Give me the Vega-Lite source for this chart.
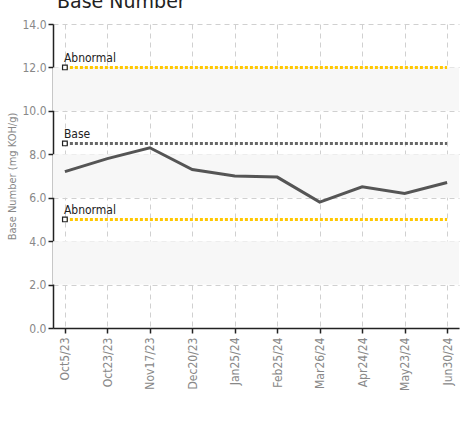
{
  "$schema": "https://vega.github.io/schema/vega-lite/v6.json",
  "width": 406,
  "height": 304,
  "padding": {"left": 6, "top": -7, "right": 4, "bottom": 5},
  "title": {"text": "Base Number", "anchor": "start", "frame": "group", "fontSize": 19, "fontWeight": "normal", "color": "#222", "font": "DejaVu Sans", "offset": 2, "dx": 4, "dy": -4},
  "datasets": {
    "readings": [
      {"date": "Oct5/23", "value": 7.2},
      {"date": "Oct23/23", "value": 7.8},
      {"date": "Nov17/23", "value": 8.3},
      {"date": "Dec20/23", "value": 7.3},
      {"date": "Jan25/24", "value": 7.0},
      {"date": "Feb25/24", "value": 6.95},
      {"date": "Mar26/24", "value": 5.8},
      {"date": "Apr24/24", "value": 6.5},
      {"date": "May23/24", "value": 6.2},
      {"date": "Jun30/24", "value": 6.7}
    ],
    "limits": [
      {"label": "Abnormal", "kind": "abnormal", "value": 12, "start": "Oct5/23", "end": "Jun30/24"},
      {"label": "Base", "kind": "base", "value": 8.5, "start": "Oct5/23", "end": "Jun30/24"},
      {"label": "Abnormal", "kind": "abnormal", "value": 5, "start": "Oct5/23", "end": "Jun30/24"}
    ],
    "bands": [
      {"lo": 2, "hi": 4},
      {"lo": 6, "hi": 8},
      {"lo": 10, "hi": 12}
    ]
  },
  "config": {
    "view": {"stroke": null},
    "font": "DejaVu Sans Condensed, Roboto, sans-serif",
    "axis": {
      "labelFont": "DejaVu Sans Condensed, Roboto, sans-serif",
      "labelColor": "#888",
      "labelFontSize": 12,
      "titleFont": "DejaVu Sans Condensed, Roboto, sans-serif",
      "titleColor": "#888",
      "titleFontWeight": "normal",
      "titleFontSize": 11,
      "domainColor": "#222",
      "domainWidth": 1.5,
      "tickColor": "#222",
      "tickWidth": 1.5,
      "tickSize": 5,
      "gridColor": "#d0d0d0",
      "gridDash": [5, 4],
      "gridWidth": 1
    }
  },
  "encoding": {
    "x": {
      "field": "date",
      "type": "ordinal",
      "sort": null,
      "scale": {"type": "point", "padding": 0.28, "domain": ["Oct5/23", "Oct23/23", "Nov17/23", "Dec20/23", "Jan25/24", "Feb25/24", "Mar26/24", "Apr24/24", "May23/24", "Jun30/24"]},
      "axis": {"title": null, "labelAngle": -90, "labelAlign": "right", "labelBaseline": "middle", "labelPadding": 4, "grid": true}
    }
  },
  "layer": [
    {
      "data": {"name": "bands"},
      "mark": {"type": "rect", "color": "#f7f7f7"},
      "encoding": {
        "x": null,
        "y": {"field": "lo", "type": "quantitative"},
        "y2": {"field": "hi"}
      }
    },
    {
      "data": {"name": "readings"},
      "mark": {"type": "line", "color": "#555", "strokeWidth": 3},
      "encoding": {
        "y": {
          "field": "value",
          "type": "quantitative",
          "scale": {"domain": [0, 14], "nice": false},
          "axis": {"title": "Base Number (mg KOH/g)", "values": [0, 2, 4, 6, 8, 10, 12, 14], "format": ".1f", "grid": true, "titlePadding": 4, "labelPadding": 2}
        }
      }
    },
    {
      "data": {"name": "limits"},
      "mark": {"type": "rule", "strokeWidth": 3, "strokeDash": [3, 2]},
      "encoding": {
        "x": {"field": "start", "type": "ordinal"},
        "x2": {"field": "end"},
        "y": {"field": "value", "type": "quantitative"},
        "color": {"field": "kind", "type": "nominal", "scale": {"domain": ["abnormal", "base"], "range": ["#ffc800", "#666"]}, "legend": null}
      }
    },
    {
      "data": {"name": "limits"},
      "mark": {"type": "point", "shape": "square", "filled": true, "fill": "#fff", "stroke": "#222", "strokeWidth": 1.2, "size": 22, "opacity": 1},
      "encoding": {
        "x": {"field": "start", "type": "ordinal"},
        "y": {"field": "value", "type": "quantitative"}
      }
    },
    {
      "data": {"name": "limits"},
      "mark": {"type": "text", "align": "left", "baseline": "alphabetic", "dx": -1, "dy": -5, "fontSize": 12, "color": "#222", "font": "DejaVu Sans Condensed, Roboto, sans-serif"},
      "encoding": {
        "x": {"field": "start", "type": "ordinal"},
        "y": {"field": "value", "type": "quantitative"},
        "text": {"field": "label"}
      }
    }
  ]
}
